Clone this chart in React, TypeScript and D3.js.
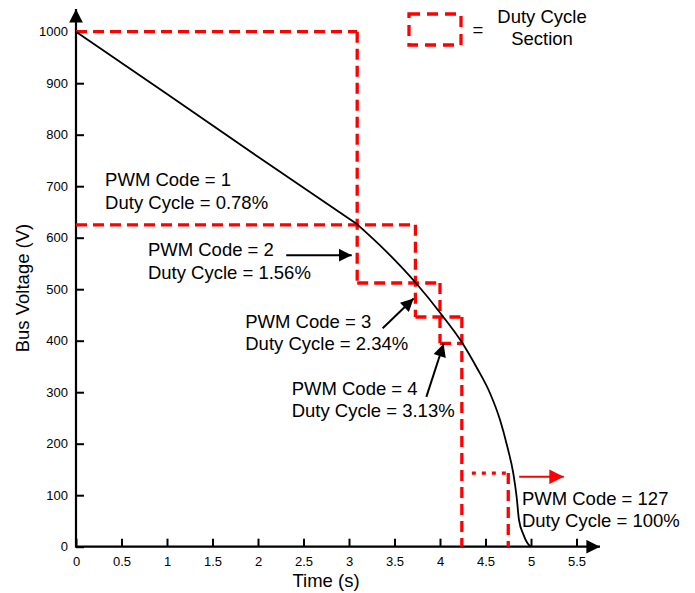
import React, { useRef, useEffect } from 'react';
import * as d3 from 'd3';

// axis ticks
const timeTicks = [0, 0.5, 1, 1.5, 2, 2.5, 3, 3.5, 4, 4.5, 5, 5.5];
const voltageTicks = [0, 100, 200, 300, 400, 500, 600, 700, 800, 900, 1000];

// bus voltage discharge curve (first stretch is a straight ramp down to the kink at 3.09 s)
const curveTime = [0, 1, 2, 3.09, 3.4, 3.74, 4.02, 4.24, 4.4, 4.55, 4.66, 4.74, 4.806, 4.842, 4.868, 4.916, 4.96, 5.0];
const curveVoltage = [1000, 879, 757, 626, 575, 511, 450, 397, 349, 298, 246, 194, 142, 97, 52, 24, 7, 0];
const kinkIndex = 3;

// duty cycle section corners
const sectionTime = [0, 3.09, 3.73, 4.0, 4.24];
const sectionVoltage = [1000, 625, 512, 446, 395];
const lastSectionTime = 4.75;
const lastSectionVoltage = 143;

const labels = [
  ['PWM Code = 1', 'Duty Cycle = 0.78%'],
  ['PWM Code = 2', 'Duty Cycle = 1.56%'],
  ['PWM Code = 3', 'Duty Cycle = 2.34%'],
  ['PWM Code = 4', 'Duty Cycle = 3.13%'],
  ['PWM Code = 127', 'Duty Cycle = 100%'],
];

const W = 695;
const H = 593;
const FONT = '"Liberation Sans", Arial, sans-serif';
const RED = '#ff0000';
const FS = 18.5;

export default function App() {
  const ref = useRef<SVGSVGElement>(null);

  useEffect(() => {
    const svg = d3.select(ref.current);
    svg.selectAll('*').remove();

    const x = d3.scaleLinear().domain([0, 5.5]).range([76, 576.5]);
    const y = d3.scaleLinear().domain([0, 1000]).range([546.7, 31.7]);

    const defs = svg.append('defs');
    const marker = (id: string, color: string, size: number) =>
      defs.append('marker')
        .attr('id', id)
        .attr('viewBox', '0 0 10 10')
        .attr('refX', 10).attr('refY', 5)
        .attr('markerUnits', 'userSpaceOnUse')
        .attr('markerWidth', size).attr('markerHeight', size * 0.85)
        .attr('orient', 'auto')
        .append('path').attr('d', 'M0,0 L10,5 L0,10 Z').attr('fill', color);
    marker('blk', '#000', 15);
    marker('red', RED, 17);
    marker('axis', '#000', 16);

    // axes
    const xAxis = svg.append('g')
      .attr('transform', `translate(0,${y(0)})`)
      .call(d3.axisBottom(x).tickValues(timeTicks).tickSize(-8).tickPadding(13).tickFormat(d3.format('~g')));
    xAxis.select('.domain').remove();
    const yAxis = svg.append('g')
      .attr('transform', `translate(${x(0)},0)`)
      .call(d3.axisLeft(y).tickValues(voltageTicks).tickSize(-8).tickPadding(8).tickFormat(d3.format('d')));
    yAxis.select('.domain').remove();
    [xAxis, yAxis].forEach(g => {
      g.selectAll('line').attr('stroke', '#000').attr('stroke-width', 2);
      g.selectAll('text').attr('font-family', FONT).attr('font-size', 13).attr('fill', '#000');
    });
    xAxis.selectAll('text').attr('dy', '0.71em').attr('y', 10);

    svg.append('line')
      .attr('x1', x(0)).attr('y1', y(0)).attr('x2', 600).attr('y2', y(0))
      .attr('stroke', '#000').attr('stroke-width', 2.2).attr('marker-end', 'url(#axis)');
    svg.append('line')
      .attr('x1', x(0)).attr('y1', y(0) + 1).attr('x2', x(0)).attr('y2', 9)
      .attr('stroke', '#000').attr('stroke-width', 2.2).attr('marker-end', 'url(#axis)');

    // axis titles
    svg.append('text')
      .attr('x', 326).attr('y', 587).attr('text-anchor', 'middle')
      .attr('font-family', FONT).attr('font-size', FS).text('Time (s)');
    svg.append('text')
      .attr('transform', `translate(29,${288}) rotate(-90)`).attr('text-anchor', 'middle')
      .attr('font-family', FONT).attr('font-size', FS).text('Bus Voltage (V)');

    // duty cycle sections
    const n = sectionTime.length;
    const segs: [number, number, number, number][] = [];
    for (let k = 0; k < n; k++) {
      const t0 = sectionTime[Math.max(k - 1, 0)];
      const t1 = sectionTime[Math.min(k + 1, n - 1)];
      segs.push([t0, sectionVoltage[k], t1, sectionVoltage[k]]);
      if (k > 0) {
        const vEnd = k + 1 < n ? sectionVoltage[k + 1] : 0;
        segs.push([sectionTime[k], sectionVoltage[k - 1], sectionTime[k], vEnd]);
      }
    }
    svg.append('g').selectAll('line').data(segs).join('line')
      .attr('x1', d => x(d[0])).attr('y1', d => y(d[1]))
      .attr('x2', d => x(d[2])).attr('y2', d => y(d[3]))
      .attr('stroke', RED).attr('stroke-width', 3.3)
      .attr('stroke-dasharray', '11,6');

    svg.append('line')
      .attr('x1', x(sectionTime[n - 1]) + 10).attr('y1', y(lastSectionVoltage))
      .attr('x2', x(lastSectionTime)).attr('y2', y(lastSectionVoltage))
      .attr('stroke', RED).attr('stroke-width', 3.3).attr('stroke-dasharray', '4,6');
    svg.append('line')
      .attr('x1', x(lastSectionTime)).attr('y1', y(lastSectionVoltage))
      .attr('x2', x(lastSectionTime)).attr('y2', y(0))
      .attr('stroke', RED).attr('stroke-width', 3.3).attr('stroke-dasharray', '11,6');

    // curve: straight ramp, then smooth roll-off
    const pts = curveTime.map((t, i) => [t, curveVoltage[i]] as [number, number]);
    const lin = d3.line<[number, number]>().x(d => x(d[0])).y(d => y(d[1]));
    const smooth = d3.line<[number, number]>().x(d => x(d[0])).y(d => y(d[1])).curve(d3.curveMonotoneX);
    svg.append('path')
      .attr('fill', 'none').attr('stroke', '#000').attr('stroke-width', 1.8).attr('stroke-linejoin', 'round')
      .attr('d', (lin(pts.slice(0, kinkIndex + 1)) || '') + (smooth(pts.slice(kinkIndex)) || ''));

    // annotation arrows
    const arrows: [number, number, number, number, string][] = [
      [2.31, 566, 3.03, 566, 'blk'],
      [3.37, 424, 3.71, 482, 'blk'],
      [3.85, 291, 4.04, 394, 'blk'],
      [4.87, 136, 5.36, 136, 'red'],
    ];
    svg.append('g').selectAll('line').data(arrows).join('line')
      .attr('x1', d => x(d[0])).attr('y1', d => y(d[1]))
      .attr('x2', d => x(d[2])).attr('y2', d => y(d[3]))
      .attr('stroke', d => (d[4] === 'red' ? RED : '#000')).attr('stroke-width', 2)
      .attr('marker-end', d => `url(#${d[4]})`);

    // labels
    const anchors: [number, number][] = [[0.32, 700], [0.79, 564], [1.86, 425], [2.37, 295], [4.9, 81]];
    labels.forEach((lines, i) => {
      const t = svg.append('text')
        .attr('x', x(anchors[i][0])).attr('y', y(anchors[i][1]))
        .attr('font-family', FONT).attr('font-size', FS).attr('fill', '#000');
      lines.forEach((s, j) => t.append('tspan').attr('x', x(anchors[i][0])).attr('dy', j === 0 ? 0 : 22.5).text(s));
    });

    // legend
    svg.append('rect')
      .attr('x', 409).attr('y', 14).attr('width', 52).attr('height', 31)
      .attr('fill', 'none').attr('stroke', RED).attr('stroke-width', 3.3)
      .attr('stroke-dasharray', '11,7');
    svg.append('text').attr('x', 478).attr('y', 36).attr('text-anchor', 'middle')
      .attr('font-family', FONT).attr('font-size', FS).text('=');
    const lg = svg.append('text').attr('x', 542).attr('y', 23).attr('text-anchor', 'middle')
      .attr('font-family', FONT).attr('font-size', FS);
    lg.append('tspan').attr('x', 542).text('Duty Cycle');
    lg.append('tspan').attr('x', 542).attr('dy', 22).text('Section');
  }, []);

  return (
    <svg ref={ref} width={W} height={H} style={{ position: 'absolute', left: 0, top: 0, background: '#fff' }} />
  );
}
